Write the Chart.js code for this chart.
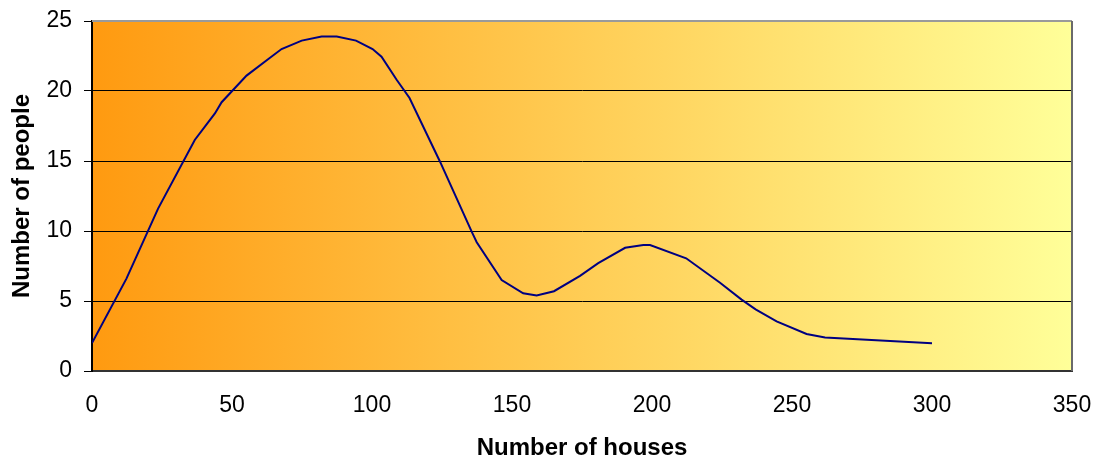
<!DOCTYPE html>
<html lang="en">
<head>
  <meta charset="UTF-8" />
  <title>Number of people by number of houses</title>
  <script src="https://cdn.jsdelivr.net/npm/chart.js"></script>
  <style>
    html, body { margin: 0; padding: 0; background: #ffffff; }
    #chart { display: block; }
  </style>
</head>
<body>
  <canvas id="chart" width="1098" height="459"></canvas>
  <script>
    // Values
    const houses = [0, 12.3, 23.6, 36.7, 43.9, 46.3, 55.2, 62.4, 67.7, 74.9, 82, 87.4, 94.3, 100.2, 103.4, 108.8, 113.4,
      124.3, 135.6, 137.4, 146.3, 154, 158.8, 165, 174.3, 180.8, 190.4, 196.9, 199.3, 212.2, 224.3, 232, 237, 244.5,
      255.2, 261.8, 300];
    const people = [2, 6.6, 11.6, 16.5, 18.4, 19.2, 21.1, 22.2, 23.0, 23.6, 23.9, 23.9, 23.6, 23.0, 22.45, 20.8, 19.5,
      14.95, 9.95, 9.2, 6.5, 5.55, 5.4, 5.7, 6.8, 7.7, 8.8, 9.0, 9.0, 8.05, 6.3, 5.1, 4.4, 3.55,
      2.64, 2.4, 1.98];
    const xTicks = [0, 50, 100, 150, 200, 250, 300, 350];
    const yTicks = [0, 5, 10, 15, 20, 25];

    const points = houses.map((h, i) => ({ x: h, y: people[i] }));

    // gradient plot background + grey frame on top/right
    const plotFrame = {
      id: 'plotFrame',
      beforeDraw(chart) {
        const { ctx, chartArea: a } = chart;
        const g = ctx.createLinearGradient(a.left, 0, a.right, 0);
        g.addColorStop(0, '#ff9a10');
        g.addColorStop(1, '#ffff99');
        ctx.save();
        ctx.fillStyle = g;
        ctx.fillRect(a.left, a.top, a.right - a.left, a.bottom - a.top);
        ctx.restore();
      },
      afterDraw(chart) {
        const { ctx, chartArea: a } = chart;
        ctx.save();
        ctx.strokeStyle = '#9a9a9a';
        ctx.lineWidth = 2;
        ctx.beginPath();
        ctx.moveTo(a.left, a.top);
        ctx.lineTo(a.right, a.top);
        ctx.stroke();
        ctx.strokeStyle = '#6a6a6a';
        ctx.beginPath();
        ctx.moveTo(a.right, a.top);
        ctx.lineTo(a.right, a.bottom);
        ctx.stroke();
        ctx.restore();
      }
    };

    const tickFont = { family: 'Liberation Sans, Arial, sans-serif', size: 23 };
    const titleFont = { family: 'Liberation Sans, Arial, sans-serif', size: 24, weight: 'bold' };

    new Chart(document.getElementById('chart'), {
      type: 'scatter',
      data: {
        datasets: [{
          data: points,
          showLine: true,
          borderColor: '#000080',
          borderWidth: 2,
          pointRadius: 0,
          fill: false
        }]
      },
      options: {
        responsive: false,
        animation: false,
        layout: { padding: { top: 21, right: 26, left: 0, bottom: 0 } },
        plugins: { legend: { display: false }, tooltip: { enabled: false } },
        scales: {
          x: {
            type: 'linear',
            min: 0,
            max: 350,
            afterBuildTicks: s => { s.ticks = xTicks.map(v => ({ value: v })); },
            afterFit: s => { s.height = 88; s.paddingLeft = 0; s.paddingRight = 0; },
            grid: { display: false, drawTicks: false },
            border: { display: true, color: '#333333', width: 2 },
            ticks: { color: '#000', font: tickFont, padding: 21 },
            title: {
              display: true,
              text: 'Number of houses',
              color: '#000',
              font: { ...titleFont, lineHeight: 1 },
              padding: { top: 0, bottom: -1 }
            }
          },
          y: {
            type: 'linear',
            min: 0,
            max: 25,
            afterBuildTicks: s => { s.ticks = yTicks.map(v => ({ value: v })); },
            afterFit: s => { s.width = 92; s.paddingTop = 0; s.paddingBottom = 0; },
            grid: { color: '#000000', lineWidth: 1, tickLength: 8 },
            border: { display: true, color: '#000000', width: 2 },
            ticks: { color: '#000', font: tickFont, padding: 12 },
            title: {
              display: true,
              text: 'Number of people',
              color: '#000',
              font: titleFont,
              padding: { top: 8, bottom: 0 }
            }
          }
        }
      },
      plugins: [plotFrame]
    });
  </script>
</body>
</html>
